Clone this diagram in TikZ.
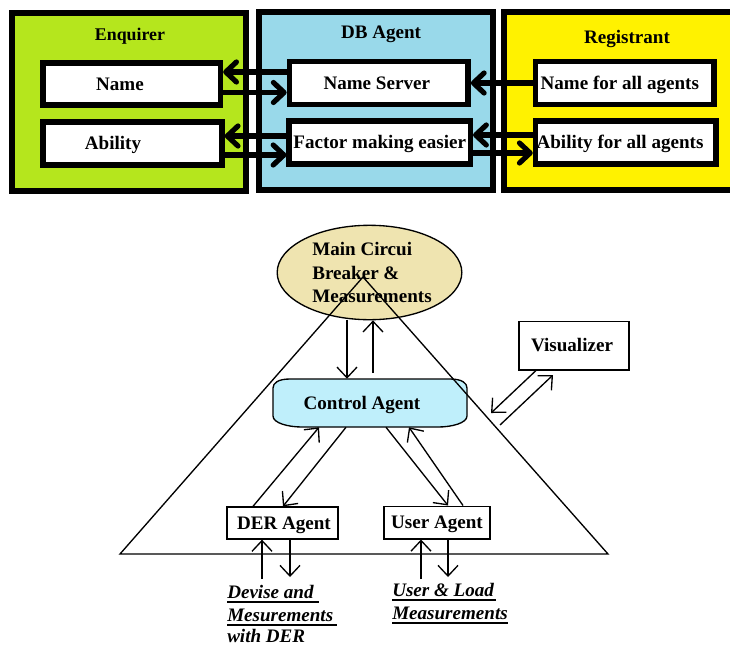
\documentclass[tikz,border=0pt]{standalone}
\usepackage{fontspec}
\setmainfont{Liberation Serif}
\usetikzlibrary{arrows.meta,shapes.geometric}
\newcommand{\sh}[1]{\hspace*{\dimexpr#1pt*3/2\relax}}
\definecolor{grn}{HTML}{B5E61D}
\definecolor{skyb}{HTML}{99D9EA}
\definecolor{yel}{HTML}{FFF200}
\definecolor{sand}{HTML}{EFE4B0}
\definecolor{cyanl}{HTML}{BFEFFB}
\tikzset{
  lbl/.style={font=\fontsize{14.3}{17.6}\selectfont\bfseries},
  oneline/.style={text height=9.5pt,text depth=0pt},
  group/.style={draw=black,line width=4.5pt,inner sep=0pt,minimum width=#1},
  ttl/.style={lbl,oneline,inner sep=0pt},
  hbox/.style={draw=black,fill=white,line width=4.1pt,lbl,oneline,inner sep=0pt},
  tbox/.style={draw=black,fill=white,line width=1pt,lbl,oneline,inner sep=0pt},
  thickarr/.style={line width=3.9pt,-{Straight Barb[length=8pt,width=15pt,round]}},
  thinarr/.style={line width=1pt,-{Straight Barb[length=8pt,width=15pt]}},
  ulabel/.style={font=\fontsize{14.3}{17}\selectfont\bfseries\itshape,inner sep=0pt,anchor=base west,text depth=2.6pt},
  uline/.style={line width=1.6pt}
}
\begin{document}
\begin{tikzpicture}[x=.75pt,y=-.75pt]
\clip (0,0) rectangle (730,646);
\fill[white] (0,0) rectangle (730,646);

% upper panels
\node[group=175.5pt,fill=grn,minimum height=133.5pt] (enq) at (129,102) {};
\node[group=175.5pt,fill=skyb,minimum height=133.5pt] (db) at (376,101) {};
\node[draw=none,fill=yel,minimum width=169.5pt,minimum height=133.5pt,inner sep=0pt] (reg) at (617.5,101) {};
\draw[line width=4.5pt,line cap=rect] (730,0 |- reg.north) -- (reg.north west) -- (reg.south west) -- (730,0 |- reg.south);

\node[ttl] (tenq) at (130,34) {\fontsize{13.4}{16}\selectfont Enquirer};
\node[ttl] (tdb) at (381,32) {DB Agent};
\node[ttl] (treg) at (627,37) {Registrant};

\node[hbox,minimum width=133pt,minimum height=31.5pt] (name) at (131.75,84) {\sh{-11.75}Name};
\node[hbox,minimum width=134.2pt,minimum height=32.2pt] (abil) at (132.5,143.5) {\sh{-19.5}Ability};
\node[hbox,minimum width=134pt,minimum height=32pt] (nsrv) at (378.75,83) {\sh{-2}Name Server};
\node[hbox,minimum width=135.8pt,minimum height=32.2pt] (fact) at (379.75,142.5) {Factor making easier};
\node[hbox,minimum width=133.9pt,minimum height=32pt] (nall) at (624.75,83) {\sh{-5}Name for all agents};
\node[hbox,minimum width=135.4pt,minimum height=32.2pt] (aall) at (625.75,142.5) {\sh{-5.75}Ability for all agents};

\draw[thickarr] (nsrv.west |- 0,72) -- (name.east |- 0,72);
\draw[thickarr] (name.east |- 0,92.5) -- (nsrv.west |- 0,92.5);
\draw[thickarr] (fact.west |- 0,136) -- (abil.east |- 0,136);
\draw[thickarr] (abil.east |- 0,155) -- (fact.west |- 0,155);
\draw[thickarr] (nall.west |- 0,83) -- (nsrv.east |- 0,83);
\draw[thickarr] (aall.west |- 0,135) -- (fact.east |- 0,135);
\draw[thickarr] (fact.east |- 0,153) -- (aall.west |- 0,153);

% lower diagram
\node[draw=black,fill=sand,ellipse,line width=1pt,minimum width=138.5pt,minimum height=70.8pt,inner sep=0pt,lbl,align=left] (main) at (369.5,272.5)
  {\hspace*{3.75pt}Main Circui\\\hspace*{3.75pt}Breaker \&\\\hspace*{3.75pt}Measurements};
\draw[line width=1pt,fill=cyanl] (273,388) .. controls (273,383) and (278,379) .. (290,379)
  -- (450,379) .. controls (462,379) and (467,383) .. (467,388)
  -- (467,416) .. controls (467,423) and (452,427) .. (438,427)
  -- (302,427) .. controls (288,427) and (273,423) .. (273,416) -- cycle;
\node[lbl,oneline,inner sep=0pt,minimum width=145.5pt,minimum height=36pt] (ctrl) at (370,403) {\sh{-8}Control Agent};
\coordinate (apex) at (363,277);
\coordinate (bl) at (120,554);
\coordinate (br) at (608,554);
\draw[line width=1pt,line join=miter] (apex) -- (bl) -- (br) -- cycle;

\node[tbox,minimum width=82.5pt,minimum height=36.5pt] (vis) at (574,345.5) {\sh{-2}Visualizer};
\node[tbox,minimum width=83.2pt,minimum height=24pt] (der) at (282.5,523) {\sh{1.5}DER Agent};
\node[tbox,minimum width=79.5pt,minimum height=24.5pt] (usr) at (437,522.5) {User Agent};

\coordinate (vl1) at (491,413);
\coordinate (vl2) at (500,425);
\coordinate (vl3) at (553,375);
\coordinate (up1) at (373,373);
\coordinate (inder) at (262,579);
\coordinate (outder) at (290,577);
\coordinate (inusr) at (421,579);
\coordinate (outusr) at (448,577);

\draw[thinarr] (main.south -| 347,0) -- (347,0 |- ctrl.north);
\draw[thinarr] (up1) -- (373,0 |- main.south);
\draw[thinarr] (vis.south -| 536,0) -- (vl1);
\draw[thinarr] (vl2) -- (vl3);
\draw[thinarr] (der.north -| 253,0) -- (ctrl.south -| 319,0);
\draw[thinarr] (ctrl.south -| 346,0) -- (der.north -| 283,0);
\draw[thinarr] (ctrl.south -| 386,0) -- (usr.north -| 448,0);
\draw[thinarr] (usr.north -| 463,0) -- (ctrl.south -| 409,0);
\draw[thinarr] (inder) -- (der.south -| inder);
\draw[thinarr] (der.south -| outder) -- (outder);
\draw[thinarr] (inusr) -- (usr.south -| inusr);
\draw[thinarr] (usr.south -| outusr) -- (outusr);

\node[ulabel] (d1) at (227,598) {Devise and\hspace*{4pt}};
\node[ulabel] (d2) at (227,621) {Mesurements\hspace*{3pt}};
\node[ulabel,text depth=0pt] (d3) at (227,642.5) {with DER};
\node[ulabel] (u1) at (392,596) {User \& Load\hspace*{1pt}};
\node[ulabel] (u2) at (392,619) {Measurements};
\draw[uline] (d1.south west) -- (d1.south east);
\draw[uline] (d2.south west) -- (d2.south east);
\draw[uline] (u1.south west) -- (u1.south east);
\draw[uline] (u2.south west) -- (u2.south east);
\end{tikzpicture}
\end{document}
